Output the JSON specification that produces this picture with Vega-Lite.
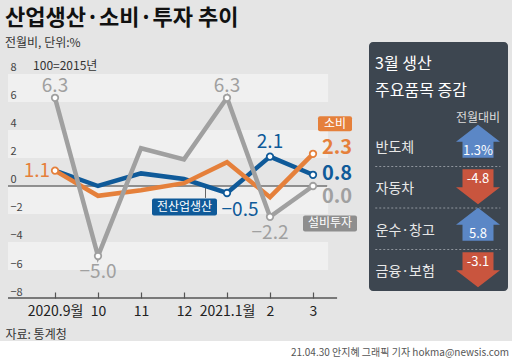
{
  "$schema": "https://vega.github.io/schema/vega-lite/v6.json",
  "background": "#e5e5e5",
  "padding": {"top": 7, "left": 0, "right": 0, "bottom": 0},
  "autosize": {"type": "pad"},
  "spacing": 1,
  "title": {
    "text": "산업생산·소비·투자 추이",
    "subtitle": "전월비, 단위:%",
    "anchor": "start",
    "dx": 5,
    "offset": -8,
    "font": "Noto Sans CJK KR",
    "fontSize": 22,
    "fontWeight": "bold",
    "color": "#111111",
    "subtitleFont": "Noto Sans CJK KR",
    "subtitleFontSize": 12,
    "subtitleColor": "#333333",
    "subtitlePadding": 8
  },
  "datasets": {
    "series": [
      {"idx": 0, "series": "전산업생산", "value": 1.1},
      {"idx": 1, "series": "전산업생산", "value": 0.0},
      {"idx": 2, "series": "전산업생산", "value": 0.9},
      {"idx": 3, "series": "전산업생산", "value": 0.5},
      {"idx": 4, "series": "전산업생산", "value": -0.5},
      {"idx": 5, "series": "전산업생산", "value": 2.1},
      {"idx": 6, "series": "전산업생산", "value": 0.8},
      {"idx": 0, "series": "소비", "value": 1.1},
      {"idx": 1, "series": "소비", "value": -0.7},
      {"idx": 2, "series": "소비", "value": -0.3},
      {"idx": 3, "series": "소비", "value": 0.2},
      {"idx": 4, "series": "소비", "value": 1.7},
      {"idx": 5, "series": "소비", "value": -0.8},
      {"idx": 6, "series": "소비", "value": 2.3},
      {"idx": 0, "series": "설비투자", "value": 6.3},
      {"idx": 1, "series": "설비투자", "value": -5.0},
      {"idx": 2, "series": "설비투자", "value": 2.7},
      {"idx": 3, "series": "설비투자", "value": 1.9},
      {"idx": 4, "series": "설비투자", "value": 6.3},
      {"idx": 5, "series": "설비투자", "value": -2.2},
      {"idx": 6, "series": "설비투자", "value": 0.0}
    ],
    "bands": [
      {"lo": 6, "hi": 8},
      {"lo": 2, "hi": 4},
      {"lo": -2, "hi": 0},
      {"lo": -6, "hi": -4}
    ],
    "items": [
      {"item": "반도체", "value": 1.3, "label": "1.3%"},
      {"item": "자동차", "value": -4.8, "label": "-4.8"},
      {"item": "운수·창고", "value": 5.8, "label": "5.8"},
      {"item": "금융·보험", "value": -3.1, "label": "-3.1"}
    ]
  },
  "vconcat": [
    {
      "spacing": 0,
      "hconcat": [
        {
          "width": 369,
          "height": 256,
          "data": {"name": "series"},
          "layer": [
            {
              "data": {"name": "bands"},
              "mark": {"type": "rect", "color": "#f0f0f0"},
              "encoding": {
                "x": {"datum": -1.093, "type": "quantitative",
                  "scale": {"domain": [-1.2791, 7.3023], "nice": false, "zero": false},
                  "axis": {
                    "values": [0, 1, 2, 3, 4, 5, 6],
                    "labelExpr": "['2020.9월','10','11','12','2021.1월','2','3'][datum.value]",
                    "domain": false, "grid": false, "ticks": true, "tickSize": -6,
                    "tickColor": "#555555", "tickWidth": 1.2, "zindex": 2,
                    "labelPadding": 12, "labelFlush": false, "labelOverlap": false,
                    "labelFont": "Noto Sans CJK KR",
                    "labelFontSize": 14, "labelColor": "#222222",
                    "title": "자료: 통계청", "titleAnchor": "start", "titleAlign": "left",
                    "titleX": 5, "titlePadding": 11, "titleFont": "Noto Sans CJK KR",
                    "titleFontSize": 12, "titleFontWeight": "normal", "titleColor": "#333333"
                  }},
                "x2": {"datum": 6.35},
                "y": {"field": "lo", "type": "quantitative",
                  "scale": {"domain": [-8, 10.2857], "nice": false, "zero": false}},
                "y2": {"field": "hi"}
              }
            },
            {
              "data": {"values": [{}]},
              "mark": {"type": "rule", "color": "#707070", "strokeWidth": 1.5},
              "encoding": {
                "x": {"datum": -1.093, "type": "quantitative", "scale": {"domain": [-1.2791, 7.3023], "nice": false, "zero": false}},
                "x2": {"datum": 6.33},
                "y": {"datum": 0, "type": "quantitative", "scale": {"domain": [-8, 10.2857], "nice": false, "zero": false}}
              }
            },
            {
              "data": {"values": [{}]},
              "mark": {"type": "rule", "color": "#555555", "strokeWidth": 1.5},
              "encoding": {
                "x": {"datum": -1.093, "type": "quantitative", "scale": {"domain": [-1.2791, 7.3023], "nice": false, "zero": false}},
                "x2": {"datum": 6.56},
                "y": {"datum": -8, "type": "quantitative", "scale": {"domain": [-8, 10.2857], "nice": false, "zero": false}}
              }
            },
            {
              "data": {"values": [{}]},
              "mark": {"type": "rule", "color": "#666666", "strokeWidth": 1},
              "encoding": {
                "x": {"datum": 3.5, "type": "quantitative", "scale": {"domain": [-1.2791, 7.3023], "nice": false, "zero": false}},
                "y": {"datum": 0, "type": "quantitative", "scale": {"domain": [-8, 10.2857], "nice": false, "zero": false}},
                "y2": {"datum": -0.85}
              }
            },
            {
              "data": {"values": [{"t": "100=2015년"}]},
              "mark": {"type": "text", "align": "left", "baseline": "middle", "font": "Noto Sans CJK KR", "fontSize": 12, "color": "#333333"},
              "encoding": {
                "x": {"datum": -0.51, "type": "quantitative", "scale": {"domain": [-1.2791, 7.3023], "nice": false, "zero": false}},
                "y": {"datum": 8.6, "type": "quantitative", "scale": {"domain": [-8, 10.2857], "nice": false, "zero": false}},
                "text": {"field": "t"}
              }
            },
            {
              "mark": {"type": "line", "strokeWidth": 4.5},
              "encoding": {
                "x": {"field": "idx", "type": "quantitative", "scale": {"domain": [-1.2791, 7.3023], "nice": false, "zero": false}},
                "y": {"field": "value", "type": "quantitative", "scale": {"domain": [-8, 10.2857], "nice": false, "zero": false},
                  "axis": {
                    "values": [-8, -6, -4, -2, 0, 2, 4, 6, 8],
                    "tickCount": 20,
                    "domain": false, "grid": false, "ticks": false, "tickSize": 0, "zindex": 2,
                    "labelAlign": "left", "labelPadding": -10, "labelBaseline": "alphabetic",
                    "labelOffset": -3, "labelOverlap": false, "labelFlush": false, "labelSeparation": 0,
                    "labelFont": "Noto Sans CJK KR",
                    "labelFontSize": 11, "labelColor": "#444444", "title": null
                  }},
                "color": {"field": "series", "type": "nominal", "scale": {"domain": ["전산업생산", "소비", "설비투자"], "range": ["#0f5a99", "#e5803b", "#a0a0a0"]}, "legend": null},
                "detail": {"field": "series"}
              }
            },
            {
              "transform": [{"filter": "(datum.series === '설비투자' && datum.idx !== 2 && datum.idx !== 3) || (datum.series === '소비' && (datum.idx === 0 || datum.idx === 6)) || (datum.series === '전산업생산' && datum.idx >= 4)"}],
              "mark": {"type": "point", "filled": false, "fill": "#ffffff", "strokeWidth": 1.8, "size": 42, "opacity": 1},
              "encoding": {
                "x": {"field": "idx", "type": "quantitative", "scale": {"domain": [-1.2791, 7.3023], "nice": false, "zero": false}},
                "y": {"field": "value", "type": "quantitative", "scale": {"domain": [-8, 10.2857], "nice": false, "zero": false}},
                "stroke": {"field": "series", "type": "nominal", "scale": {"domain": ["전산업생산", "소비", "설비투자"], "range": ["#0f5a99", "#e5803b", "#a0a0a0"]}, "legend": null}
              }
            },
            {
              "transform": [{"filter": "datum.series === '설비투자' && datum.value > 5"}],
              "mark": {"type": "text", "dy": -11.5, "baseline": "middle", "font": "Noto Sans CJK KR", "fontSize": 19},
              "encoding": {
                "x": {"field": "idx", "type": "quantitative", "scale": {"domain": [-1.2791, 7.3023], "nice": false, "zero": false}},
                "y": {"field": "value", "type": "quantitative", "scale": {"domain": [-8, 10.2857], "nice": false, "zero": false}},
                "text": {"field": "value", "type": "quantitative", "format": ".1f"},
                "color": {"field": "series", "type": "nominal", "scale": {"domain": ["전산업생산", "소비", "설비투자"], "range": ["#0f5a99", "#e5803b", "#a0a0a0"]}, "legend": null}
              }
            },
            {
              "transform": [{"filter": "datum.series === '전산업생산' && datum.idx === 5"}],
              "mark": {"type": "text", "dy": -14.5, "baseline": "middle", "font": "Noto Sans CJK KR", "fontSize": 19},
              "encoding": {
                "x": {"field": "idx", "type": "quantitative", "scale": {"domain": [-1.2791, 7.3023], "nice": false, "zero": false}},
                "y": {"field": "value", "type": "quantitative", "scale": {"domain": [-8, 10.2857], "nice": false, "zero": false}},
                "text": {"field": "value", "type": "quantitative", "format": ".1f"},
                "color": {"field": "series", "type": "nominal", "scale": {"domain": ["전산업생산", "소비", "설비투자"], "range": ["#0f5a99", "#e5803b", "#a0a0a0"]}, "legend": null}
              }
            },
            {
              "transform": [{"filter": "datum.series === '설비투자' && datum.value < -1"}],
              "mark": {"type": "text", "dy": 16, "baseline": "middle", "font": "Noto Sans CJK KR", "fontSize": 19},
              "encoding": {
                "x": {"field": "idx", "type": "quantitative", "scale": {"domain": [-1.2791, 7.3023], "nice": false, "zero": false}},
                "y": {"field": "value", "type": "quantitative", "scale": {"domain": [-8, 10.2857], "nice": false, "zero": false}},
                "text": {"field": "value", "type": "quantitative", "format": ".1f"},
                "color": {"field": "series", "type": "nominal", "scale": {"domain": ["전산업생산", "소비", "설비투자"], "range": ["#0f5a99", "#e5803b", "#a0a0a0"]}, "legend": null}
              }
            },
            {
              "transform": [{"filter": "datum.series === '소비' && datum.idx === 0"}],
              "mark": {"type": "text", "align": "right", "dx": -5, "baseline": "middle", "font": "Noto Sans CJK KR", "fontSize": 19},
              "encoding": {
                "x": {"field": "idx", "type": "quantitative", "scale": {"domain": [-1.2791, 7.3023], "nice": false, "zero": false}},
                "y": {"field": "value", "type": "quantitative", "scale": {"domain": [-8, 10.2857], "nice": false, "zero": false}},
                "text": {"field": "value", "type": "quantitative", "format": ".1f"},
                "color": {"field": "series", "type": "nominal", "scale": {"domain": ["전산업생산", "소비", "설비투자"], "range": ["#0f5a99", "#e5803b", "#a0a0a0"]}, "legend": null}
              }
            },
            {
              "transform": [{"filter": "datum.series === '전산업생산' && datum.idx === 4"}],
              "mark": {"type": "text", "dx": 13, "dy": 17, "baseline": "middle", "font": "Noto Sans CJK KR", "fontSize": 19},
              "encoding": {
                "x": {"field": "idx", "type": "quantitative", "scale": {"domain": [-1.2791, 7.3023], "nice": false, "zero": false}},
                "y": {"field": "value", "type": "quantitative", "scale": {"domain": [-8, 10.2857], "nice": false, "zero": false}},
                "text": {"field": "value", "type": "quantitative", "format": ".1f"},
                "color": {"field": "series", "type": "nominal", "scale": {"domain": ["전산업생산", "소비", "설비투자"], "range": ["#0f5a99", "#e5803b", "#a0a0a0"]}, "legend": null}
              }
            },
            {
              "transform": [{"filter": "datum.series === '소비' && datum.idx === 6"}],
              "mark": {"type": "text", "align": "left", "dx": 9, "dy": -6, "baseline": "middle", "font": "Noto Sans CJK KR", "fontSize": 20, "fontWeight": "bold"},
              "encoding": {
                "x": {"field": "idx", "type": "quantitative", "scale": {"domain": [-1.2791, 7.3023], "nice": false, "zero": false}},
                "y": {"field": "value", "type": "quantitative", "scale": {"domain": [-8, 10.2857], "nice": false, "zero": false}},
                "text": {"field": "value", "type": "quantitative", "format": ".1f"},
                "color": {"field": "series", "type": "nominal", "scale": {"domain": ["전산업생산", "소비", "설비투자"], "range": ["#0f5a99", "#e5803b", "#a0a0a0"]}, "legend": null}
              }
            },
            {
              "transform": [{"filter": "datum.series === '전산업생산' && datum.idx === 6"}],
              "mark": {"type": "text", "align": "left", "dx": 9, "dy": -1, "baseline": "middle", "font": "Noto Sans CJK KR", "fontSize": 20, "fontWeight": "bold"},
              "encoding": {
                "x": {"field": "idx", "type": "quantitative", "scale": {"domain": [-1.2791, 7.3023], "nice": false, "zero": false}},
                "y": {"field": "value", "type": "quantitative", "scale": {"domain": [-8, 10.2857], "nice": false, "zero": false}},
                "text": {"field": "value", "type": "quantitative", "format": ".1f"},
                "color": {"field": "series", "type": "nominal", "scale": {"domain": ["전산업생산", "소비", "설비투자"], "range": ["#0f5a99", "#e5803b", "#a0a0a0"]}, "legend": null}
              }
            },
            {
              "transform": [{"filter": "datum.series === '설비투자' && datum.idx === 6"}],
              "mark": {"type": "text", "align": "left", "dx": 9, "dy": 11, "baseline": "middle", "font": "Noto Sans CJK KR", "fontSize": 20, "fontWeight": "bold"},
              "encoding": {
                "x": {"field": "idx", "type": "quantitative", "scale": {"domain": [-1.2791, 7.3023], "nice": false, "zero": false}},
                "y": {"field": "value", "type": "quantitative", "scale": {"domain": [-8, 10.2857], "nice": false, "zero": false}},
                "text": {"field": "value", "type": "quantitative", "format": ".1f"},
                "color": {"field": "series", "type": "nominal", "scale": {"domain": ["전산업생산", "소비", "설비투자"], "range": ["#0f5a99", "#e5803b", "#a0a0a0"]}, "legend": null}
              }
            },
            {
              "transform": [{"filter": "datum.series === '소비' && datum.idx === 6"}],
              "mark": {"type": "point", "shape": "M7,-37.5h30q2,0 2,2v11q0,2 -2,2h-30q-2,0 -2,-2v-11q0,-2 2,-2z", "size": 4, "filled": true, "opacity": 1, "color": "#e5803b"},
              "encoding": {
                "x": {"field": "idx", "type": "quantitative", "scale": {"domain": [-1.2791, 7.3023], "nice": false, "zero": false}},
                "y": {"field": "value", "type": "quantitative", "scale": {"domain": [-8, 10.2857], "nice": false, "zero": false}}
              }
            },
            {
              "transform": [{"filter": "datum.series === '설비투자' && datum.idx === 6"}],
              "mark": {"type": "point", "shape": "M-8,29.5h50q2,0 2,2v12q0,2 -2,2h-50q-2,0 -2,-2v-12q0,-2 2,-2z", "size": 4, "filled": true, "opacity": 1, "color": "#8e8e8e"},
              "encoding": {
                "x": {"field": "idx", "type": "quantitative", "scale": {"domain": [-1.2791, 7.3023], "nice": false, "zero": false}},
                "y": {"field": "value", "type": "quantitative", "scale": {"domain": [-8, 10.2857], "nice": false, "zero": false}}
              }
            },
            {
              "transform": [{"filter": "datum.series === '전산업생산' && datum.idx === 3"}],
              "mark": {"type": "point", "shape": "M-30,19.5h61q2,0 2,2v13q0,2 -2,2h-61q-2,0 -2,-2v-13q0,-2 2,-2z", "size": 4, "filled": true, "opacity": 1, "color": "#0f5a99"},
              "encoding": {
                "x": {"field": "idx", "type": "quantitative", "scale": {"domain": [-1.2791, 7.3023], "nice": false, "zero": false}},
                "y": {"field": "value", "type": "quantitative", "scale": {"domain": [-8, 10.2857], "nice": false, "zero": false}}
              }
            },
            {
              "transform": [{"filter": "datum.series === '소비' && datum.idx === 6"}],
              "mark": {"type": "text", "dx": 22, "dy": -30, "baseline": "middle", "font": "Noto Sans CJK KR", "fontSize": 12, "color": "#ffffff"},
              "encoding": {
                "x": {"field": "idx", "type": "quantitative", "scale": {"domain": [-1.2791, 7.3023], "nice": false, "zero": false}},
                "y": {"field": "value", "type": "quantitative", "scale": {"domain": [-8, 10.2857], "nice": false, "zero": false}},
                "text": {"field": "series"}
              }
            },
            {
              "transform": [{"filter": "datum.series === '설비투자' && datum.idx === 6"}],
              "mark": {"type": "text", "dx": 17, "dy": 37.5, "baseline": "middle", "font": "Noto Sans CJK KR", "fontSize": 12, "color": "#ffffff"},
              "encoding": {
                "x": {"field": "idx", "type": "quantitative", "scale": {"domain": [-1.2791, 7.3023], "nice": false, "zero": false}},
                "y": {"field": "value", "type": "quantitative", "scale": {"domain": [-8, 10.2857], "nice": false, "zero": false}},
                "text": {"field": "series"}
              }
            },
            {
              "transform": [{"filter": "datum.series === '전산업생산' && datum.idx === 3"}],
              "mark": {"type": "text", "dx": 0.5, "dy": 28, "baseline": "middle", "font": "Noto Sans CJK KR", "fontSize": 12, "color": "#ffffff"},
              "encoding": {
                "x": {"field": "idx", "type": "quantitative", "scale": {"domain": [-1.2791, 7.3023], "nice": false, "zero": false}},
                "y": {"field": "value", "type": "quantitative", "scale": {"domain": [-8, 10.2857], "nice": false, "zero": false}},
                "text": {"field": "series"}
              }
            }
          ]
        },
        {
          "width": 139,
          "height": 249,
          "view": {"fill": "#3d4650", "stroke": null, "cornerRadius": 4},
          "title": {
            "text": ["3월 생산", "주요품목 증감"],
            "anchor": "start",
            "dx": 6,
            "offset": -57,
            "font": "Noto Sans CJK KR",
            "fontSize": 16,
            "lineHeight": 27,
            "fontWeight": "normal",
            "color": "#ffffff"
          },
          "data": {"name": "items"},
          "layer": [
            {
              "transform": [{"filter": "datum.item !== '반도체'"}],
              "mark": {"type": "rule", "strokeDash": [2, 2], "color": "#8f959c", "strokeWidth": 1},
              "encoding": {
                "x": {"datum": 0.045, "type": "quantitative", "scale": {"domain": [0, 1], "nice": false, "zero": false},
                  "axis": {"labels": false, "ticks": false, "domain": false, "grid": false, "title": null}},
                "x2": {"datum": 0.945},
                "y": {"field": "item", "type": "nominal", "bandPosition": 0,
                  "scale": {"type": "band", "domain": ["반도체", "자동차", "운수·창고", "금융·보험"], "paddingInner": 0, "paddingOuter": 1.1, "align": 1}}
              }
            },
            {
              "transform": [{"filter": "datum.value > 0"}],
              "mark": {"type": "point", "shape": "M39.5,-21L61.5,-4L55,-4L55,12L24,12L24,-4L17.5,-4Z", "size": 4, "filled": true, "opacity": 1, "color": "#5b87c6"},
              "encoding": {
                "y": {"field": "item", "type": "nominal",
                  "scale": {"type": "band", "domain": ["반도체", "자동차", "운수·창고", "금융·보험"], "paddingInner": 0, "paddingOuter": 1.1, "align": 1},
                  "axis": {
                    "title": "전월대비", "titleAngle": 0, "titleX": 108.5, "titleY": 75,
                    "titleAlign": "center", "titleBaseline": "middle", "titleFont": "Noto Sans CJK KR",
                    "titleFontSize": 12, "titleFontWeight": "normal", "titleColor": "#dddddd",
                    "labelAlign": "left", "labelPadding": -6, "labelBaseline": "middle", "labelOffset": 2,
                    "bandPosition": 0.5, "zindex": 2,
                    "ticks": false, "tickSize": 0, "domain": false, "grid": false,
                    "labelFont": "Noto Sans CJK KR", "labelFontSize": 14, "labelColor": "#e8e8e8"
                  }}
              }
            },
            {
              "transform": [{"filter": "datum.value < 0"}],
              "mark": {"type": "point", "shape": "M24,-18L55,-18L55,0L61.5,0L39.5,17L17.5,0L24,0Z", "size": 4, "filled": true, "opacity": 1, "color": "#c9553e"},
              "encoding": {
                "y": {"field": "item", "type": "nominal",
                  "scale": {"type": "band", "domain": ["반도체", "자동차", "운수·창고", "금융·보험"], "paddingInner": 0, "paddingOuter": 1.1, "align": 1}}
              }
            },
            {
              "transform": [{"filter": "datum.value > 0"}],
              "mark": {"type": "text", "dx": 39.5, "dy": 5, "baseline": "middle", "font": "Noto Sans CJK KR", "fontSize": 13, "color": "#ffffff"},
              "encoding": {
                "y": {"field": "item", "type": "nominal",
                  "scale": {"type": "band", "domain": ["반도체", "자동차", "운수·창고", "금융·보험"], "paddingInner": 0, "paddingOuter": 1.1, "align": 1}},
                "text": {"field": "label"}
              }
            },
            {
              "transform": [{"filter": "datum.value < 0"}],
              "mark": {"type": "text", "dx": 39.5, "dy": -8, "baseline": "middle", "font": "Noto Sans CJK KR", "fontSize": 13, "color": "#ffffff"},
              "encoding": {
                "y": {"field": "item", "type": "nominal",
                  "scale": {"type": "band", "domain": ["반도체", "자동차", "운수·창고", "금융·보험"], "paddingInner": 0, "paddingOuter": 1.1, "align": 1}},
                "text": {"field": "label"}
              }
            }
          ]
        }
      ]
    },
    {
      "width": 512,
      "height": 20,
      "view": {"fill": "#ffffff", "stroke": null},
      "data": {"values": [{"t": "21.04.30 안지혜 그래픽 기자 hokma@newsis.com"}]},
      "mark": {"type": "text", "align": "right", "dx": 253, "dy": 2, "baseline": "middle", "font": "Noto Sans CJK KR", "fontSize": 10, "color": "#555555"},
      "encoding": {"text": {"field": "t"}}
    }
  ],
  "config": {
    "view": {"stroke": null},
    "font": "Noto Sans CJK KR",
    "axis": {"zindex": 2},
    "axisQuantitative": {"labelOverlap": false}
  }
}
